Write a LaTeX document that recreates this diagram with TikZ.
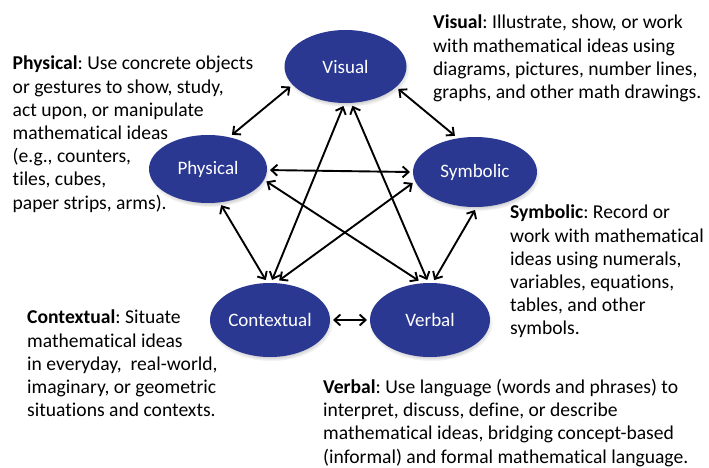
\documentclass[tikz,border=0pt]{standalone}
\usepackage{fontspec}
\setmainfont{Carlito}[Ligatures=NoCommon]
\frenchspacing
\usetikzlibrary{arrows.meta,shadows,shapes.geometric}
\definecolor{ellblue}{RGB}{42,56,146}
\tikzset{
  ell/.style={ellipse, fill=ellblue, text=white, inner sep=0pt, outer sep=3pt,
    font=\fontsize{19}{22}\selectfont,
    circular drop shadow={shadow xshift=1pt, shadow yshift=-3pt, shadow scale=1.03, opacity=0.45}},
  desc/.style={anchor=north west, inner sep=0pt, align=left, font=\fontsize{19.6}{23.2}\selectfont},
  arr/.style={line width=1.9pt, {Straight Barb[length=6pt,width=11pt]}-{Straight Barb[length=6pt,width=11pt]}}
}
\begin{document}
\begin{tikzpicture}[x=1pt,y=1pt]
\useasboundingbox (0,0) rectangle (709,467);
% ellipses
\node[ell, minimum width=122pt, minimum height=73pt] (vis) at (345.5,400.5) {Visual};
\node[ell, minimum width=118pt, minimum height=68pt] (phy) at (208,298) {Physical};
\node[ell, minimum width=124pt, minimum height=70pt] (sym) at (475,295) {Symbolic};
\node[ell, minimum width=120pt, minimum height=74pt] (con) at (270,147) {Contextual};
\node[ell, minimum width=120pt, minimum height=74pt] (ver) at (430,147) {Verbal};
% connectors
\draw[arr] (vis.200) -- (phy.55);
\draw[arr] (vis.-23) -- (sym.119);
\draw[arr] (phy.-1) -- (sym.180);
\draw[arr] (phy.-70) -- (con.96);
\draw[arr] (sym.-90) -- (ver.84);
\draw[arr] (con.0) -- (ver.180);
\draw[arr] (vis.-93) -- (con.87);
\draw[arr] (vis.-80) -- (ver.94);
\draw[arr] (phy.-12) -- (ver.106);
\draw[arr] (sym.190) -- (con.77);
% descriptions
\node[desc] (tphy) at (12.5,411) {\textbf{Physical}: Use concrete objects\\or gestures to show, study,\\act upon, or manipulate\\mathematical ideas\\(e.g., counters,\\tiles, cubes,\\paper strips, arms).};
\node[desc] (tvis) at (433,452) {\textbf{Visual}: Illustrate, show, or work\\with mathematical ideas using\\diagrams, pictures, number lines,\\graphs, and other math drawings.};
\node[desc] (tsym) at (510,262) {\textbf{Symbolic}: Record or\\work with mathematical\\ideas using numerals,\\variables, equations,\\tables, and other\\symbols.};
\node[desc] (tcon) at (27,157) {\textbf{Contextual}: Situate\\mathematical ideas\\in everyday,\ \ real-world,\\imaginary, or geometric\\situations and contexts.};
\node[desc] (tver) at (323,88) {\textbf{Verbal}: Use language (words and phrases) to\\interpret, discuss, define, or describe\\mathematical ideas, bridging concept-based\\(informal) and formal mathematical language.};
\end{tikzpicture}
\end{document}
